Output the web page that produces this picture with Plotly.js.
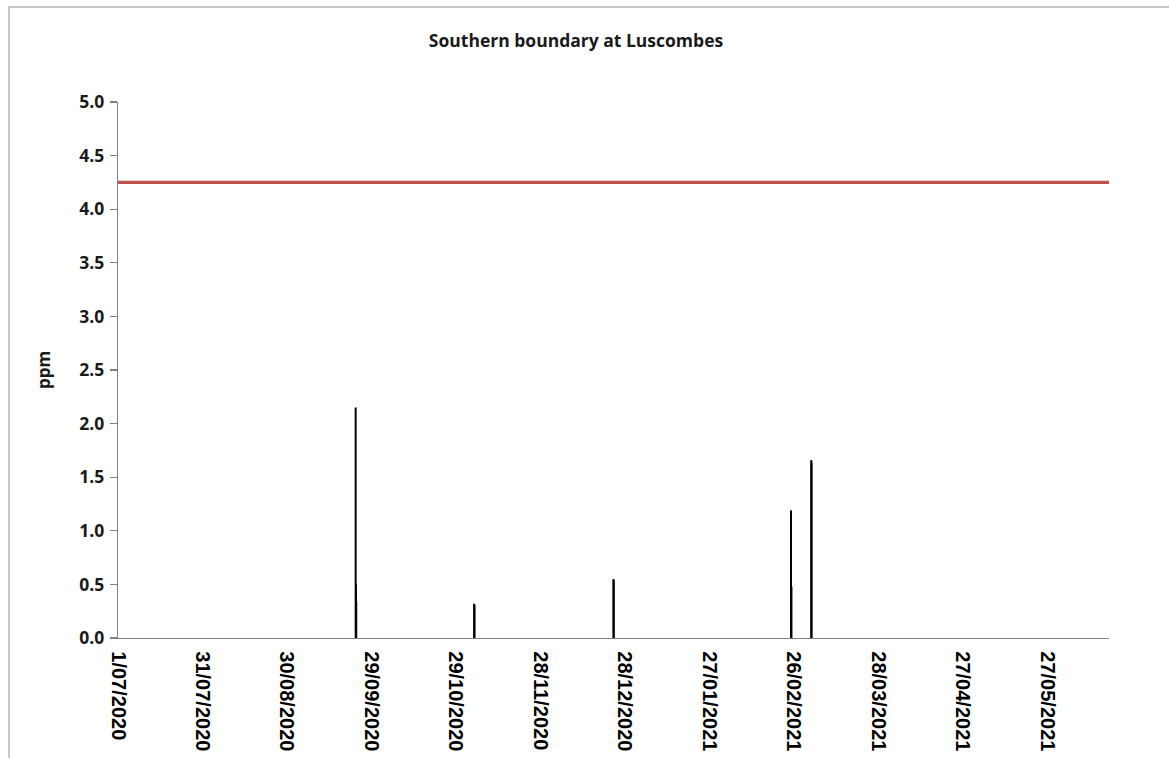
<!DOCTYPE html>
<html>
<head>
<meta charset="utf-8">
<script src="https://cdn.plot.ly/plotly-3.0.1.min.js"></script>
<style>
  html, body { margin: 0; padding: 0; background: #ffffff; }
  #wrap { position: relative; width: 1169px; height: 758px; overflow: hidden; }
  #chart { position: absolute; left: 0; top: 0; width: 1169px; height: 758px; }
  #frame { position: absolute; left: 8px; top: 6px; width: 1300px; height: 900px;
           border-left: 2px solid #c8c8c8; border-top: 2px solid #c8c8c8; pointer-events: none; }
</style>
</head>
<body>
<div id="wrap">
  <div id="chart"></div>
  <div id="frame"></div>
</div>
<script>
// ---- data ----
const chartTitle = "Southern boundary at Luscombes";
const yAxisTitle = "ppm";

// measured readings (ppm) at individual times
const readingTimes = [
  "2020-09-23 10:00", "2020-09-23 13:00", "2020-09-23 15:00",
  "2020-11-04 12:00", "2020-11-04 15:00",
  "2020-12-24 00:00", "2020-12-24 02:00",
  "2021-02-25 01:00", "2021-02-25 05:00",
  "2021-03-04 06:00", "2021-03-04 08:00"
];
const readingValues = [2.15, 0.50, 0.34, 0.32, 0.31, 0.55, 0.54, 1.19, 0.48, 1.66, 1.64];

// limit / criterion line
const limitDates = ["2020-07-01", "2021-06-18"];
const limitValues = [4.25, 4.25];

// axis settings
const xStart = "2020-07-01";
const xEnd = "2021-06-18";
const xTickDays = 30;
const yMin = 0, yMax = 5, yStep = 0.5;

// ---- build spike trace from data (each reading drawn from 0 to its value) ----
const spikeX = [], spikeY = [];
readingTimes.forEach((t, i) => {
  spikeX.push(t, t, null);
  spikeY.push(0, readingValues[i], null);
});

const traces = [
  {
    type: "scatter", mode: "lines",
    x: spikeX, y: spikeY,
    line: { color: "#000000", width: 2 },
    connectgaps: false, hoverinfo: "skip", showlegend: false
  },
  {
    type: "scatter", mode: "lines",
    x: limitDates, y: limitValues,
    line: { color: "#C0504D", width: 3.2 },
    showlegend: false
  }
];

const layout = {
  width: 1169, height: 758,
  paper_bgcolor: "#ffffff", plot_bgcolor: "#ffffff",
  margin: { l: 118, r: 60, t: 102, b: 120 },
  showlegend: false,
  title: {
    text: chartTitle,
    font: { family: "Open Sans, sans-serif", size: 17.5, weight: "bold", color: "#1a1a1a" },
    x: 576 / 1169, xref: "container", xanchor: "center",
    y: 1 - 41 / 758, yref: "container", yanchor: "middle"
  },
  xaxis: {
    type: "date",
    range: [xStart, xEnd],
    tick0: xStart,
    dtick: xTickDays * 86400000,
    tickformat: "%-d/%m/%Y",
    tickangle: 90,
    ticks: "",
    ticklabelstandoff: 8,
    tickfont: { family: "Liberation Sans, Arial, sans-serif", size: 20, weight: "bold", color: "#000000" },
    showgrid: false, zeroline: false,
    showline: true, linecolor: "#808080", linewidth: 1.3,
    automargin: false, fixedrange: true
  },
  yaxis: {
    range: [yMin, yMax],
    tick0: 0, dtick: yStep,
    tickformat: ".1f",
    ticks: "outside", ticklen: 7, tickcolor: "#808080", tickwidth: 1.3,
    ticklabelstandoff: 2,
    tickfont: { family: "Open Sans, sans-serif", size: 17.5, weight: "bold", color: "#1a1a1a" },
    title: {
      text: yAxisTitle,
      font: { family: "Open Sans, sans-serif", size: 17, weight: "bold", color: "#1a1a1a" },
      standoff: 24
    },
    showgrid: false, zeroline: false,
    showline: true, linecolor: "#808080", linewidth: 1.3,
    automargin: false, fixedrange: true
  }
};

Plotly.newPlot("chart", traces, layout, { staticPlot: true, displayModeBar: false });
</script>
</body>
</html>
